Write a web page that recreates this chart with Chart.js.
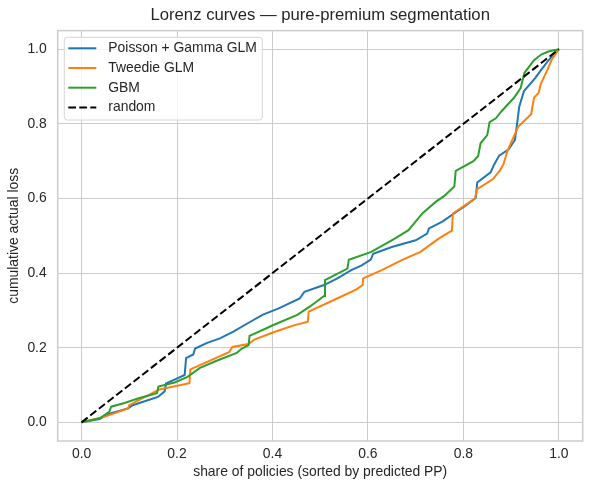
<!DOCTYPE html>
<html><head><meta charset="utf-8">
<script src="https://cdn.jsdelivr.net/npm/chart.js@4"></script>
<style>html,body{margin:0;padding:0;background:#fff}#c{display:block}</style>
</head><body>
<canvas id="c" width="590" height="490"></canvas>
<script>
// ---- data ----
const tickValues = [0, 0.2, 0.4, 0.6, 0.8, 1.0];
const seriesLabels = ['Poisson + Gamma GLM', 'Tweedie GLM', 'GBM', 'random'];

const glmX = [0,0.038,0.055,0.097,0.107,0.160,0.174,0.177,0.196,0.216,0.219,0.234,0.238,0.263,0.290,0.318,0.350,0.380,0.412,0.457,0.467,0.508,0.536,0.565,0.586,0.606,0.611,0.650,0.700,0.724,0.728,0.756,0.785,0.806,0.826,0.829,0.857,0.864,0.875,0.895,0.908,0.912,0.917,0.927,0.950,0.963,0.977,0.988,1];
const glmY = [0,0.009,0.022,0.037,0.046,0.068,0.083,0.104,0.115,0.127,0.172,0.182,0.198,0.213,0.225,0.243,0.267,0.289,0.305,0.332,0.350,0.368,0.386,0.408,0.420,0.436,0.452,0.470,0.488,0.506,0.520,0.538,0.564,0.582,0.602,0.643,0.670,0.690,0.715,0.732,0.757,0.795,0.846,0.888,0.922,0.945,0.968,0.985,1];

const tweedieX = [0,0.046,0.097,0.100,0.139,0.163,0.226,0.228,0.268,0.309,0.316,0.350,0.362,0.405,0.445,0.474,0.476,0.532,0.575,0.589,0.590,0.629,0.671,0.710,0.749,0.776,0.778,0.824,0.829,0.862,0.876,0.884,0.893,0.915,0.942,0.948,0.958,0.962,0.976,0.985,1];
const tweedieY = [0,0.014,0.037,0.046,0.072,0.088,0.105,0.142,0.165,0.188,0.202,0.210,0.222,0.243,0.260,0.270,0.297,0.330,0.356,0.368,0.386,0.408,0.435,0.457,0.493,0.514,0.560,0.600,0.625,0.652,0.674,0.692,0.730,0.793,0.826,0.870,0.884,0.907,0.945,0.972,1];

const gbmX = [0,0.038,0.058,0.062,0.090,0.118,0.158,0.161,0.195,0.222,0.248,0.283,0.325,0.336,0.350,0.352,0.402,0.452,0.478,0.508,0.510,0.557,0.560,0.607,0.657,0.685,0.714,0.742,0.760,0.781,0.784,0.821,0.831,0.836,0.850,0.855,0.868,0.880,0.906,0.920,0.928,0.948,0.963,0.978,1];
const gbmY = [0,0.011,0.028,0.042,0.052,0.064,0.078,0.096,0.107,0.122,0.146,0.165,0.186,0.198,0.207,0.232,0.261,0.288,0.310,0.339,0.381,0.412,0.436,0.457,0.493,0.515,0.560,0.591,0.607,0.632,0.674,0.700,0.714,0.748,0.770,0.805,0.815,0.834,0.870,0.896,0.937,0.971,0.986,0.994,1];

const randomX = [0, 1];
const randomY = [0, 1];

const colors = ['#1f77b4', '#ff7f0e', '#2ca02c', '#000000'];
const FONT = '"Liberation Sans", Arial, sans-serif';
const TEXT = '#262626';

function pts(xs, ys) { return xs.map((x, i) => ({x: x, y: ys[i]})); }

const framePlugin = {
  id: 'frame',
  beforeDatasetsDraw(chart) {
    const {ctx, chartArea: a} = chart;
    ctx.save();
    ctx.strokeStyle = '#cccccc';
    ctx.lineWidth = 1.5;
    ctx.strokeRect(a.left, a.top, a.right - a.left, a.bottom - a.top);
    ctx.restore();
  }
};

const legendPlugin = {
  id: 'boxLegend',
  afterDatasetsDraw(chart) {
    const ctx = chart.ctx;
    const x0 = 64.3, y0 = 37.3, w = 198, h = 82.7, r = 3;
    ctx.save();
    ctx.beginPath();
    ctx.moveTo(x0 + r, y0);
    ctx.arcTo(x0 + w, y0, x0 + w, y0 + h, r);
    ctx.arcTo(x0 + w, y0 + h, x0, y0 + h, r);
    ctx.arcTo(x0, y0 + h, x0, y0, r);
    ctx.arcTo(x0, y0, x0 + w, y0, r);
    ctx.closePath();
    ctx.fillStyle = 'rgba(255,255,255,0.8)';
    ctx.fill();
    ctx.strokeStyle = '#d6d6d6';
    ctx.lineWidth = 1;
    ctx.stroke();
    chart.data.datasets.forEach((ds, i) => {
      const cy = 48.3 + i * 19.7;
      ctx.beginPath();
      ctx.strokeStyle = ds.borderColor;
      ctx.lineWidth = 2;
      ctx.setLineDash(ds.borderDash || []);
      ctx.moveTo(68.3, cy);
      ctx.lineTo(96.3, cy);
      ctx.stroke();
      ctx.setLineDash([]);
      ctx.fillStyle = TEXT;
      ctx.font = '13.9px ' + FONT;
      ctx.textBaseline = 'middle';
      ctx.textAlign = 'left';
      ctx.fillText(ds.label, 108.3, cy);
    });
    ctx.restore();
  }
};

const commonScale = (titleText, isX) => ({
  type: 'linear',
  min: -0.05,
  max: 1.05,
  afterBuildTicks: s => { s.ticks = tickValues.map(v => ({value: v})); },
  afterFit: s => { if (isX) s.height = 49; else s.width = 57.7; },
  grid: {color: '#cccccc', lineWidth: 1, drawTicks: false},
  border: {display: false},
  ticks: {
    color: TEXT,
    padding: isX ? 4.7 : 11,
    font: {family: FONT, size: 13.9},
    callback: v => Number(v).toFixed(1),
    maxRotation: 0
  },
  title: {
    display: true,
    text: titleText,
    color: TEXT,
    font: {family: FONT, size: 13.9},
    padding: isX ? {top: 0, bottom: 9.7} : {top: 5.7, bottom: 0}
  }
});

new Chart(document.getElementById('c'), {
  type: 'line',
  data: {
    datasets: [
      {label: seriesLabels[0], data: pts(glmX, glmY), borderColor: colors[0], order: 4},
      {label: seriesLabels[1], data: pts(tweedieX, tweedieY), borderColor: colors[1], order: 3},
      {label: seriesLabels[2], data: pts(gbmX, gbmY), borderColor: colors[2], order: 2},
      {label: seriesLabels[3], data: pts(randomX, randomY), borderColor: colors[3], borderDash: [7.7, 3.3], order: 1}
    ].map(d => Object.assign({borderWidth: 2, pointRadius: 0, tension: 0, fill: false, borderJoinStyle: 'miter'}, d))
  },
  options: {
    responsive: false,
    animation: false,
    parsing: true,
    layout: {padding: {left: 0, right: 7.3, top: 0, bottom: 0}},
    scales: {
      x: commonScale('share of policies (sorted by predicted PP)', true),
      y: commonScale('cumulative actual loss', false)
    },
    plugins: {
      legend: {display: false},
      tooltip: {enabled: false},
      title: {
        display: true,
        fullSize: false,
        text: 'Lorenz curves — pure-premium segmentation',
        color: TEXT,
        font: {family: FONT, size: 16.7, weight: 'normal', lineHeight: 1.2},
        padding: {top: 5.5, bottom: 5.1}
      }
    }
  },
  plugins: [framePlugin, legendPlugin]
});
</script>
</body></html>
